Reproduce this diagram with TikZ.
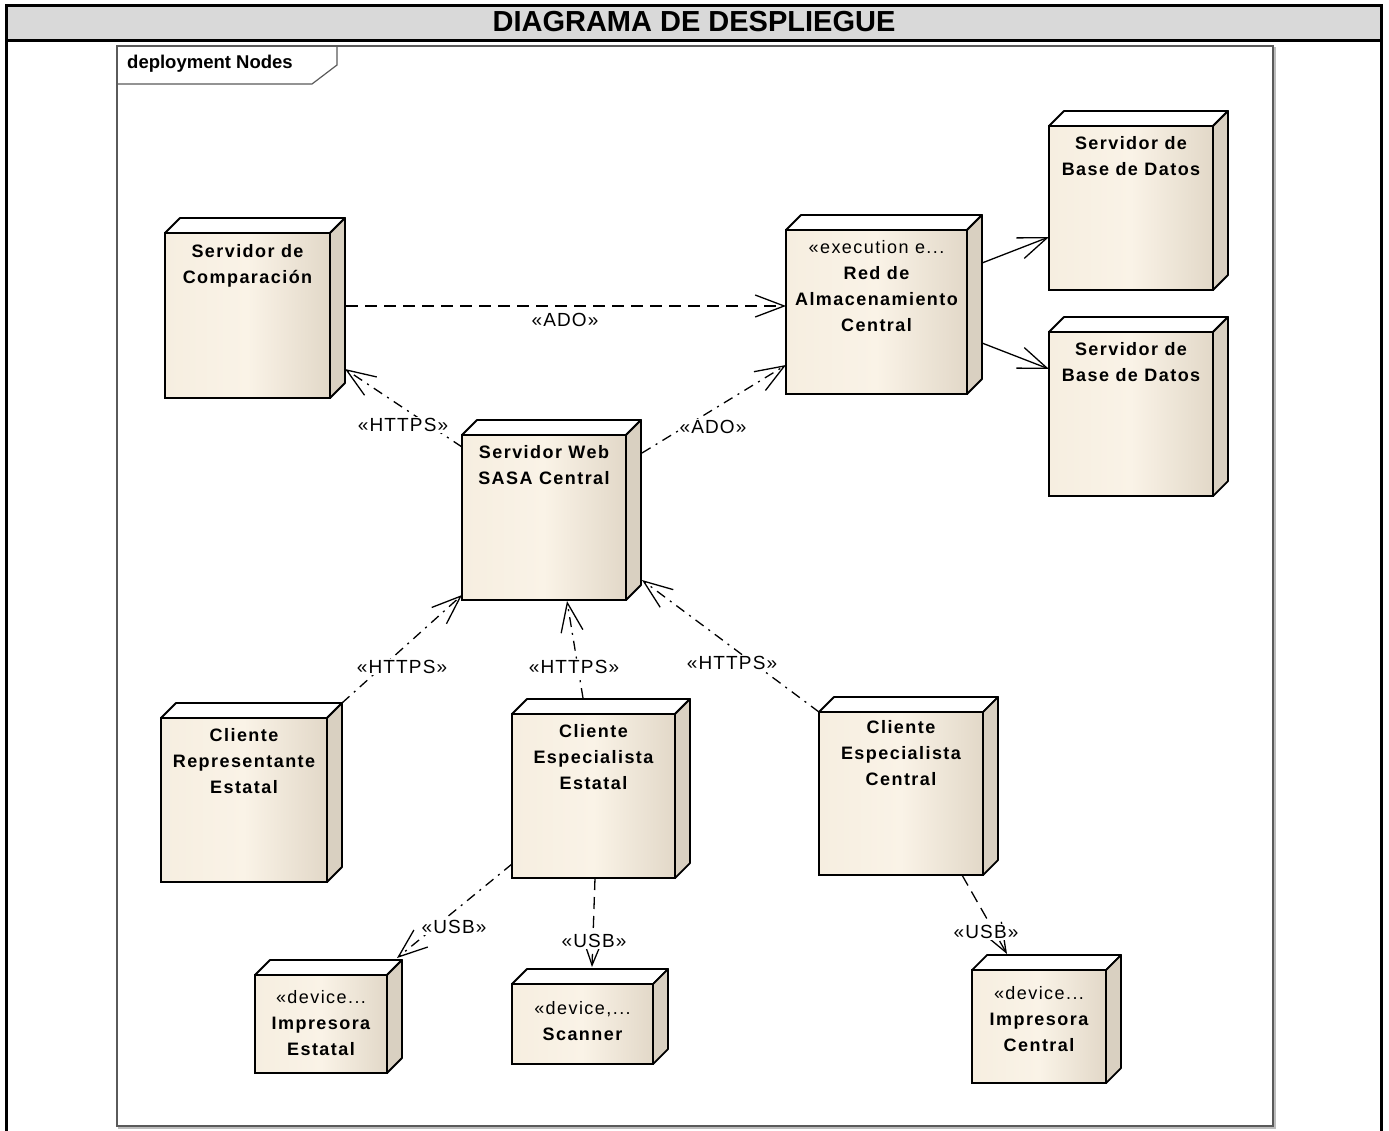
\documentclass[tikz,border=0pt]{standalone}
\usepackage{fontspec}
\setmainfont{Liberation Sans}
\newfontfamily\namefont[LetterSpace=8]{Liberation Sans}
\newfontfamily\spacedfont[LetterSpace=6]{Liberation Sans}
\usetikzlibrary{arrows.meta,calc}

\definecolor{frontL}{HTML}{F6EEE0}
\definecolor{frontM}{HTML}{FAF3E7}
\definecolor{frontR}{HTML}{E2D8C8}
\definecolor{sidec}{HTML}{D9D0C1}
\definecolor{titlegray}{HTML}{D9D9D9}
\definecolor{framegray}{HTML}{5A5A5A}
\definecolor{frameshadow}{HTML}{BDBDBD}

\tikzset{
  frontface/.style={draw=black, line width=1.8pt, inner sep=0pt, outer sep=0pt,
    left color=frontL, right color=frontR, middle color=frontM},
  topface/.style={draw=black, fill=white, line width=1.8pt, line join=round},
  sideface/.style={draw=black, fill=sidec, line width=1.8pt, line join=round},
  nodetext/.style={align=center, inner sep=0pt, anchor=north,
    font=\namefont\bfseries\fontsize{18}{26}\selectfont},
  lbl/.style={fill=white, inner sep=1pt, font=\spacedfont\fontsize{19}{22}\selectfont},
  tip/.style={-{Straight Barb[length=29pt,width=22pt,line width=1.3pt]}},
  solidlink/.style={tip, line width=1.3pt},
  dashlink/.style={tip, line width=1.3pt, dash pattern=on 12pt off 7pt},
  dashdotlink/.style={tip, line width=1.3pt, dash pattern=on 10pt off 6pt on 2pt off 6pt},
}

% 3D deployment node: name, left, top, width, height, text offset, text
\newcommand{\udnode}[7]{%
  \node[frontface, minimum width=#4pt, minimum height=#5pt, anchor=north west] (#1) at (#2,#3) {};
  \path[topface] (#1.north west) -- ++(15,-15) -- ++(#4,0) -- (#1.north east) -- cycle;
  \path[sideface] (#1.north east) -- ++(15,-15) -- ++(0,#5) -- (#1.south east) -- cycle;
  \node[nodetext] (#1-txt) at ($(#1.north)+(0,#6-7)$) {#7};
}

\begin{document}
\begin{tikzpicture}[x=1pt,y=-1pt]
\useasboundingbox (0,0) rectangle (1389,1130);
\fill[white] (0,0) rectangle (1389,1130);

% title bar and outer border
\fill[titlegray] (6,5) rectangle (1381,40);
\draw[line width=3pt] (6,1140) -- (6,5) -- (1381,5) -- (1381,1140);
\draw[line width=3pt] (6,40) -- (1381,40);
\node[font=\bfseries\fontsize{29}{32}\selectfont] (title) at (694,22) {DIAGRAMA DE DESPLIEGUE};

% diagram frame
\draw[frameshadow, line width=1.2pt] (119,48) rectangle (1275,1128);
\draw[framegray, line width=1.2pt, fill=white] (117,46) rectangle (1273,1126);
\draw[framegray, line width=1.2pt] (117,84) -- (312,84) -- (337,65) -- (337,46);
\node[anchor=west, inner sep=0pt, font=\bfseries\fontsize{18.5}{20}\selectfont] (frametitle) at (127,64) {deployment Nodes};

% nodes
\udnode{comp}{165}{233}{165}{165}{18}{Servidor de\\Comparación}
\udnode{red}{786}{230}{181}{164}{17}{{\mdseries «execution e...}\\Red de\\Almacenamiento\\Central}
\udnode{bdA}{1049}{126}{164}{164}{17}{Servidor de\\Base de Datos}
\udnode{bdB}{1049}{332}{164}{164}{17}{Servidor de\\Base de Datos}
\udnode{web}{462}{435}{164}{165}{17}{Servidor Web\\SASA Central}
\udnode{rep}{161}{718}{166}{164}{17}{Cliente\\Representante\\Estatal}
\udnode{espE}{512}{714}{163}{164}{17}{Cliente\\Especialista\\Estatal}
\udnode{espC}{819}{712}{164}{163}{15}{Cliente\\Especialista\\Central}
\udnode{impE}{255}{975}{132}{98}{22}{{\mdseries «device...}\\Impresora\\Estatal}
\udnode{scan}{512}{984}{141}{80}{24}{{\mdseries «device,...}\\Scanner}
\udnode{impC}{972}{970}{134}{113}{23}{{\mdseries «device...}\\Impresora\\Central}

% connectors
\draw[dashlink] ($(comp.north east)+(16,73)$) -- ($(red.north west)+(0,76)$);
\draw[dashdotlink] ($(web.north west)+(0,12)$) -- ($(comp.north east)+(15,136)$);
\draw[dashdotlink] ($(web.north east)+(16,18)$) -- ($(red.north west)+(0,135)$);
\draw[solidlink] ($(red.north east)+(15,33)$) -- ($(bdA.north west)+(0,111)$);
\draw[solidlink] ($(red.north east)+(15,113)$) -- ($(bdB.north west)+(0,37)$);
\draw[dashdotlink] ($(rep.north east)+(15,-15)$) -- ($(web.south west)+(0,-5)$);
\draw[dashdotlink] ($(espE.north west)+(71,-16)$) -- ($(web.south west)+(105,1)$);
\draw[dashdotlink] (espC.north west) -- ($(web.north east)+(16,145)$);
\draw[dashdotlink] ($(espE.south west)+(0,-14)$) -- ($(impE.north east)+(10,-17)$);
\draw[dashlink] ($(espE.south west)+(83,0)$) -- ($(scan.north west)+(80,-17)$);
\draw[dashlink] ($(espC.south west)+(143,0)$) -- ($(impC.north west)+(35,-16)$);

% connector labels
\node[lbl] (l-ado1) at (565,320) {«ADO»};
\node[lbl] (l-https1) at (403,425) {«HTTPS»};
\node[lbl] (l-ado2) at (713,427) {«ADO»};
\node[lbl] (l-https2) at (402,667) {«HTTPS»};
\node[lbl] (l-https3) at (574,667) {«HTTPS»};
\node[lbl] (l-https4) at (732,663) {«HTTPS»};
\node[lbl] (l-usb1) at (454,927) {«USB»};
\node[lbl] (l-usb2) at (594,941) {«USB»};
\node[lbl] (l-usb3) at (986,932) {«USB»};
\end{tikzpicture}
\end{document}
